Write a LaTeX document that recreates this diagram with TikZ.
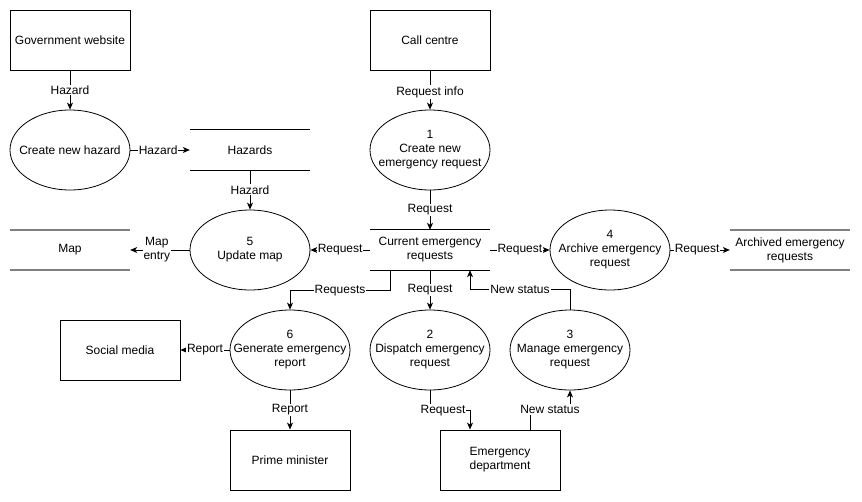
\documentclass[tikz,border=0pt]{standalone}
\usepackage{fontspec}
\setmainfont{Liberation Sans}
\usetikzlibrary{shapes.geometric,arrows.meta}
\begin{document}
\begin{tikzpicture}[x=1pt,y=-1pt,font=\fontsize{12}{14}\selectfont,
  ent/.style={draw,line width=0.9pt,minimum width=120pt,minimum height=60pt,inner sep=0pt,align=center},
  proc/.style={draw,ellipse,line width=0.8pt,minimum width=120pt,minimum height=80pt,inner sep=0pt},
  ptext/.style={align=center,inner sep=0pt},
  store/.style={minimum width=120pt,minimum height=40pt,inner sep=0pt,align=center},
  storeline/.style={line width=0.9pt},
  greyline/.style={line width=1.6pt,draw=black!50},
  flow/.style={draw,line width=0.8pt,-{Stealth[length=7pt,width=6pt,inset=2pt]}},
  lbl/.style={fill=white,inner sep=1pt,align=center}]
\useasboundingbox (0,0) rectangle (862,501);

% external entities
\node[ent] (gov) at (70,40) {Government website};
\node[ent] (call) at (430,40) {Call centre};
\node[ent] (social) at (120,350) {Social media};
\node[ent] (pm) at (290,460) {Prime minister};
\node[ent] (ed) at (500,460) {Emergency\\department};

% processes
\node[proc,label={[ptext]center:{Create new hazard}}] (haz) at (70,150) {};
\node[proc,label={[ptext]center:{1\\Create new\\emergency request}}] (p1) at (430,150) {};
\node[proc,label={[ptext]center:{5\\Update map}}] (p5) at (250,250) {};
\node[proc,label={[ptext]center:{4\\Archive emergency\\request}}] (p4) at (610,250) {};
\node[proc,label={[ptext]center:{6\\Generate emergency\\report}}] (p6) at (290,350) {};
\node[proc,label={[ptext]center:{2\\Dispatch emergency\\request}}] (p2) at (430,350) {};
\node[proc,label={[ptext]center:{3\\Manage emergency\\request}}] (p3) at (570,350) {};

% data stores
\node[store] (hazards) at (250,150) {Hazards};
\node[store] (cur) at (430,250) {Current emergency\\requests};
\node[store] (map) at (70,250) {Map};
\node[store] (arch) at (790,250) {Archived emergency\\requests};
\draw[storeline] (hazards.north west) -- (hazards.north east) (hazards.south west) -- (hazards.south east);
\draw[storeline] (cur.north west) -- (cur.north east) (cur.south west) -- (cur.south east);
\draw[greyline] (map.north west) -- (map.north east) (map.south west) -- (map.south east);
\draw[greyline] (arch.north west) -- (arch.north east) (arch.south west) -- (arch.south east);

% flows
\draw[flow] (gov) -- node[lbl]{Hazard} (haz);
\draw[flow] (haz) -- node[lbl,xshift=-2pt]{Hazard} (hazards);
\draw[flow] (hazards) -- node[lbl]{Hazard} (p5);
\draw[flow] (call) -- node[lbl,yshift=-2pt]{Request info} (p1);
\draw[flow] (p1) -- node[lbl]{Request} (cur);
\draw[flow] (cur) -- node[lbl]{Request} (p5);
\draw[flow] (p5) -- node[lbl,xshift=-3pt]{Map\\entry} (map);
\draw[flow] (cur) -- node[lbl]{Request} (p4);
\draw[flow] (p4) -- node[lbl,xshift=-3pt]{Request} (arch);
\draw[flow] ([xshift=-40pt]cur.south) -- ++(0,20) -| node[lbl,pos=0.25]{Requests} (p6.north);
\draw[flow] (cur) -- node[lbl]{Request} (p2);
\draw[flow] (p3.north) -- ++(0,-20) -| node[lbl,pos=0.25]{New status} ([xshift=40pt]cur.south);
\draw[flow] (p6) -- node[lbl]{Report} (social);
\draw[flow] (p6) -- node[lbl]{Report} (pm);
\draw[flow] (p2.south) -- ++(0,20) -| node[lbl,pos=0.25,xshift=-7pt]{Request} ([xshift=-30pt]ed.north);
\draw[flow] ([xshift=30pt]ed.north) -- ++(0,-20) -| node[lbl,pos=0.25]{New status} (p3.south);
\end{tikzpicture}
\end{document}
